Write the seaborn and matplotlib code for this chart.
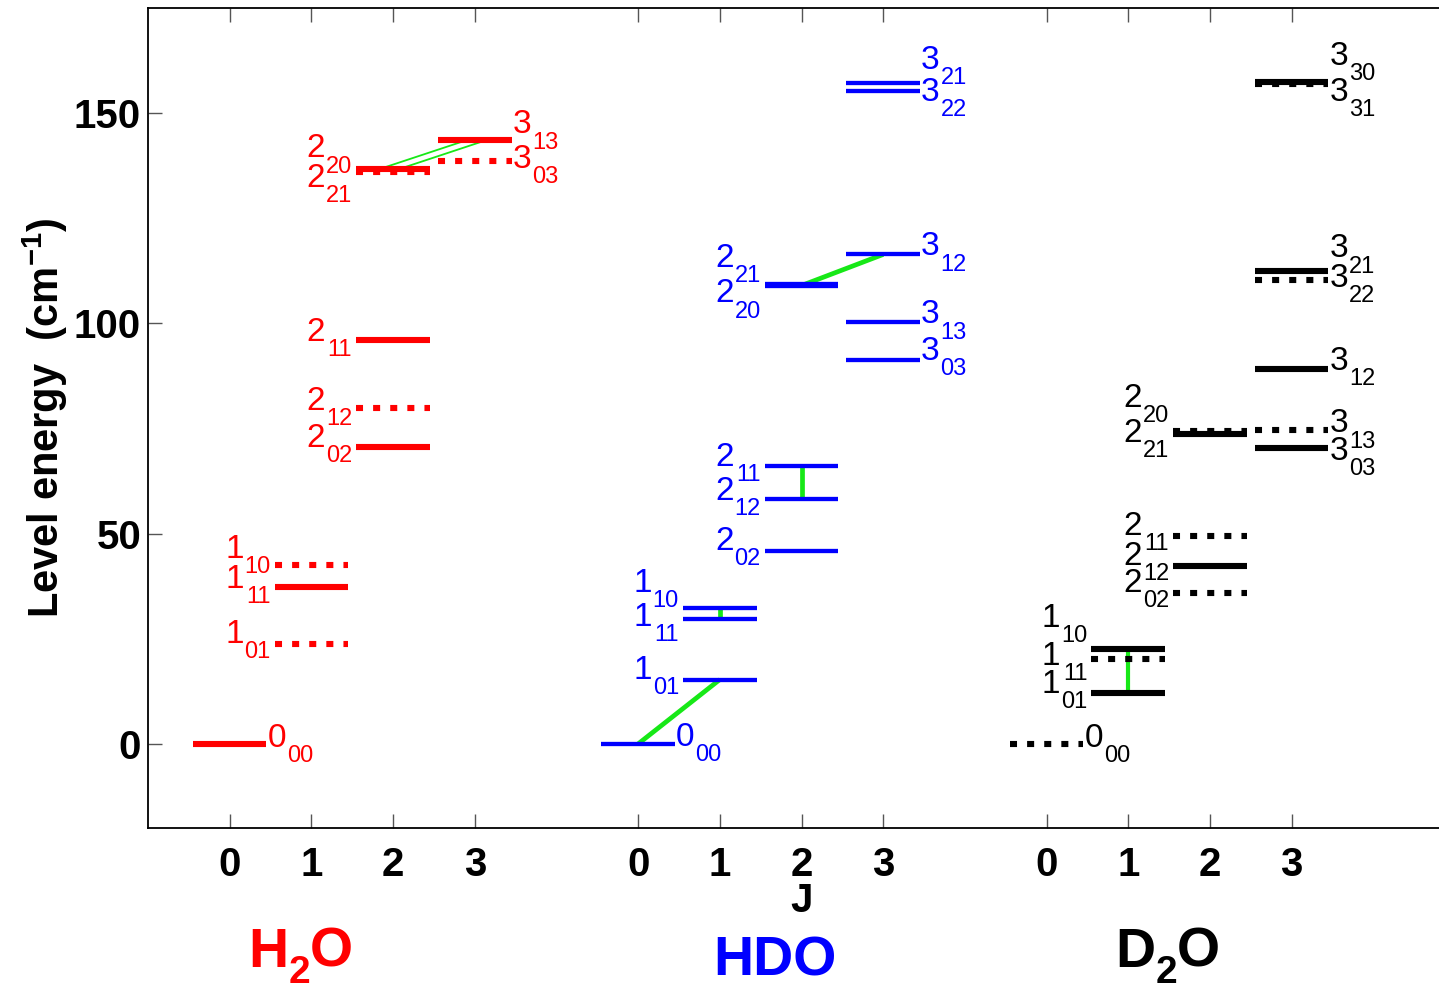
import matplotlib
matplotlib.use("Agg")
import matplotlib.pyplot as plt
import seaborn as sns
import pandas as pd

# ---------------- data ----------------
molecules = ["H2O", "HDO", "D2O"]

h2o_J = [0, 1, 1, 1, 2, 2, 2, 2, 2, 3, 3]
h2o_K = ["00", "01", "11", "10", "02", "12", "11", "21", "20", "03", "13"]
h2o_E = [0.0, 23.8, 37.2, 42.5, 70.7, 79.8, 96.0, 135.9, 136.8, 138.5, 143.5]

hdo_J = [0, 1, 1, 1, 2, 2, 2, 2, 2, 3, 3, 3, 3, 3]
hdo_K = ["00", "01", "11", "10", "02", "12", "11", "21", "20", "03", "13", "12", "22", "21"]
hdo_E = [0.0, 15.3, 29.7, 32.3, 45.8, 58.2, 66.1, 109.3, 109.0, 91.4, 100.4, 116.4, 155.3, 157.2]

d2o_J = [0, 1, 1, 1, 2, 2, 2, 2, 2, 3, 3, 3, 3, 3, 3, 3]
d2o_K = ["00", "01", "11", "10", "02", "12", "11", "21", "20", "03", "13", "12", "22", "21", "31", "30"]
d2o_E = [0.0, 12.0, 20.2, 22.6, 35.9, 42.2, 49.4, 73.8, 74.5, 70.3, 74.6, 89.1, 110.3, 112.5, 157.0, 157.4]

# transitions (lower level, upper level)
h2o_trans = [("2_20", "3_13"), ("2_20", "3_13")]
hdo_trans = [("0_00", "1_01"), ("1_11", "1_10"), ("2_12", "2_11"), ("2_20", "3_12")]
d2o_trans = [("1_01", "1_10")]

x_ticks_J = [0, 1, 2, 3]
y_ticks = [0, 50, 100, 150]

# ---------------- layout (label baselines, offsets) ----------------
h2o_lab_y = [-0.7, 24.0, 37.1, 44.2, 70.6, 79.4, 95.8, 132.4, 139.5, 136.9, 145.2]
hdo_lab_y = [-0.5, 15.4, 28.0, 36.1, 46.1, 58.0, 66.1, 113.4, 105.0, 91.3, 100.0, 116.2, 153.0, 160.6]
d2o_lab_y = [-0.7, 12.1, 18.8, 27.8, 36.1, 42.5, 49.7, 71.8, 80.1, 67.5, 74.1, 88.9, 108.6, 115.7, 153.0, 161.4]
h2o_trans_dx = [(-0.15, -0.11), (0.09, 0.13)]
hdo_trans_dx = [(0, 0)] * 4
d2o_trans_dx = [(0, 0)]

x_shift = {"H2O": 0, "HDO": 5, "D2O": 10}
colors = {"H2O": "#ff0000", "HDO": "#0000ff", "D2O": "#000000"}
lws = {"H2O": 4.4, "HDO": 3.1, "D2O": 4.4}
trans_lw = {"H2O": 1.3, "HDO": 3.4, "D2O": 3.0}
green = "#17e817"
HALF = 0.45
DOTS = (0, (1.15, 1.65))

sns.set_theme(style="white")
plt.rcParams["font.family"] = ["Liberation Sans", "DejaVu Sans"]
plt.rcParams["mathtext.fontset"] = "custom"
plt.rcParams["mathtext.rm"] = "Liberation Sans"
plt.rcParams["mathtext.bf"] = "Liberation Sans:bold"
plt.rcParams["mathtext.it"] = "Liberation Sans:italic"
plt.rcParams["mathtext.default"] = "bf"
plt.rcParams["text.color"] = "black"
plt.rcParams["axes.labelcolor"] = "black"

fig = plt.figure(figsize=(14.39, 9.84), dpi=100)
ax = fig.add_axes([148 / 1439, 156 / 984, 1307 / 1439, 820 / 984])

data = {
    "H2O": (h2o_J, h2o_K, h2o_E, h2o_lab_y, h2o_trans, h2o_trans_dx),
    "HDO": (hdo_J, hdo_K, hdo_E, hdo_lab_y, hdo_trans, hdo_trans_dx),
    "D2O": (d2o_J, d2o_K, d2o_E, d2o_lab_y, d2o_trans, d2o_trans_dx),
}

MAIN_FS = 24
SUB_FS = 17
SUB_DROP = 11
ADV = 0.556 * MAIN_FS
SUBW = 2 * 0.556 * SUB_FS


def dotted(mol, K):
    s = int(K[0]) + int(K[1])
    if mol == "H2O":
        return s % 2 == 1
    if mol == "D2O":
        return s % 2 == 0
    return False


for mol in molecules:
    J, K, E, lab_y, trans, tdx = data[mol]
    off = x_shift[mol]
    col = colors[mol]
    name = [f"{j}_{k}" for j, k in zip(J, K)]
    lookup = {n: (j, e) for n, j, e in zip(name, J, E)}

    # transitions (green) first
    rows = []
    for i, ((a, b), (d1, d2)) in enumerate(zip(trans, tdx)):
        ja, ea = lookup[a]
        jb, eb = lookup[b]
        rows.append({"t": i, "x": off + ja + d1, "E": ea})
        rows.append({"t": i, "x": off + jb + d2, "E": eb})
    tdf = pd.DataFrame(rows)
    sns.lineplot(data=tdf, x="x", y="E", units="t", estimator=None, sort=False,
                 color=green, lw=trans_lw[mol], ax=ax, zorder=2,
                 solid_capstyle="butt")

    # levels
    rows = []
    for n, j, k, e in zip(name, J, K, E):
        d = dotted(mol, k)
        rows.append({"lvl": n, "x": off + j - HALF, "E": e, "dot": d})
        rows.append({"lvl": n, "x": off + j + HALF, "E": e, "dot": d})
    ldf = pd.DataFrame(rows)
    for d in [False, True]:
        sub = ldf[ldf["dot"] == d]
        if sub.empty:
            continue
        sns.lineplot(data=sub, x="x", y="E", units="lvl", estimator=None,
                     color=col, lw=lws[mol], ax=ax, zorder=3,
                     linestyle=DOTS if d else "-",
                     solid_capstyle="butt", dash_capstyle="butt")

    # labels
    for j, k, ly in zip(J, K, lab_y):
        if j in (0, 3):
            x = off + j + HALF + 0.015
            ax.annotate(str(j), (x, ly), xytext=(0, 0), textcoords="offset points",
                        ha="left", va="baseline", fontsize=MAIN_FS, color=col,
                        annotation_clip=False)
            ax.annotate(k, (x, ly), xytext=(ADV + 0.5, -SUB_DROP), textcoords="offset points",
                        ha="left", va="baseline", fontsize=SUB_FS, color=col,
                        annotation_clip=False)
        else:
            x = off + j - HALF - 0.05
            ax.annotate(k, (x, ly), xytext=(0, -SUB_DROP), textcoords="offset points",
                        ha="right", va="baseline", fontsize=SUB_FS, color=col,
                        annotation_clip=False)
            ax.annotate(str(j), (x, ly), xytext=(-SUBW - 0.5, 0), textcoords="offset points",
                        ha="right", va="baseline", fontsize=MAIN_FS, color=col,
                        annotation_clip=False)


# group names: big letters with a low, large subscript
def formula(x, y, parts, col):
    big, small = 40, 28
    dx = 0.0
    for txt, is_sub in parts:
        fs = small if is_sub else big
        ax.annotate(txt, (x, y), xytext=(dx, -11.5 if is_sub else 0),
                    textcoords="offset points", ha="left", va="baseline",
                    fontsize=fs, fontweight="bold", color=col,
                    annotation_clip=False)
        if is_sub:
            dx += 0.556 * fs
        else:
            dx += {"H": 0.722, "D": 0.722, "O": 0.778}[txt] * fs


formula(0.23, -53, [("H", False), ("2", True), ("O", False)], colors["H2O"])
ax.text(6.67, -55, "HDO", color=colors["HDO"], fontsize=40, fontweight="bold",
        ha="center", va="baseline", clip_on=False)
formula(10.84, -53, [("D", False), ("2", True), ("O", False)], colors["D2O"])

# axes
ax.set_xlim(-1, 15)
ax.set_ylim(-20, 175)
xt = [x_shift[m] + j for m in molecules for j in x_ticks_J]
ax.set_xticks(xt)
ax.set_xticklabels([str(j) for m in molecules for j in x_ticks_J])
ax.set_yticks(y_ticks)
ax.set_yticklabels([str(v) for v in y_ticks])
for lab in ax.get_xticklabels() + ax.get_yticklabels():
    lab.set_fontweight("bold")
    lab.set_fontsize(29)
ax.tick_params(axis="x", direction="in", length=10, width=1, color="#555555",
               labelcolor="black", top=True, bottom=True, pad=13)
ax.tick_params(axis="y", direction="in", length=10, width=1, color="#555555",
               labelcolor="black", left=True, right=True, pad=5)
for s in ax.spines.values():
    s.set_visible(True)
    s.set_color("black")
    s.set_linewidth(1.3)

ax.set_xlabel("J", fontsize=29, fontweight="bold", color="black")
ax.xaxis.set_label_coords(0.5, -0.066)
ax.set_ylabel(r"Level energy  (cm$^{-1}$)", fontsize=30, fontweight="bold", color="black")
ax.yaxis.set_label_coords(-0.06, 0.5)

fig.savefig("out.png", dpi=100)
